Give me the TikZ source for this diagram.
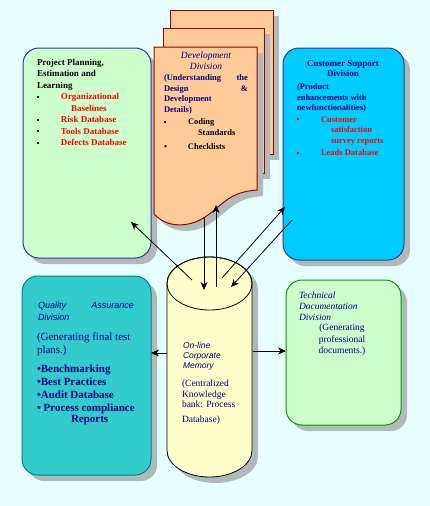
\documentclass[tikz,border=0pt]{standalone}
\usepackage{fontspec}
\setmainfont{Liberation Serif}
\setsansfont{Liberation Sans}
\usetikzlibrary{arrows.meta, shadows}

\definecolor{bgcyan}{HTML}{E8FFFF}
\definecolor{shadowgray}{HTML}{B0BABA}
\definecolor{navy}{HTML}{000080}
\definecolor{boxblue}{HTML}{333399}
\definecolor{mint}{HTML}{CCFFCC}
\definecolor{skyblue}{HTML}{00CCFF}
\definecolor{qateal}{HTML}{33CCCC}
\definecolor{tealline}{HTML}{008080}
\definecolor{devpeach}{HTML}{FFCC99}
\definecolor{devred}{HTML}{990000}
\definecolor{memyellow}{HTML}{FFFFCC}
\definecolor{techgreen}{HTML}{009900}

\newcommand{\sqbul}[1][black]{\makebox[24pt][l]{\textcolor{#1}{\rule[2pt]{2.2pt}{2.2pt}}}}

\begin{document}
\begin{tikzpicture}[x=1pt, y=-1pt,
    every node/.style={inner sep=0pt, outer sep=0pt},
    box/.style={draw, rounded corners=16pt, line width=1pt,
      drop shadow={shadow xshift=6pt, shadow yshift=-6pt, fill=shadowgray, opacity=1}},
    page/.style={draw=devred, fill=devpeach, line width=1pt,
      drop shadow={shadow xshift=6pt, shadow yshift=-6pt, fill=shadowgray, opacity=1}},
    txt/.style={anchor=north west, align=left},
    arr/.style={-{Stealth[length=8pt, width=7pt]}, line width=0.8pt},
  ]
  \fill[bgcyan] (0,0) rectangle (430,506);
  \useasboundingbox (0,0) rectangle (430,506);

  % --- division boxes
  \node[box, draw=boxblue, fill=mint, minimum width=128pt, minimum height=210pt] (plan) at (87,153) {};
  \node[box, draw=boxblue, fill=skyblue, minimum width=121pt, minimum height=212pt] (cust) at (343.5,154) {};
  \node[box, draw=tealline, fill=qateal, minimum width=129pt, minimum height=199pt] (qa) at (86.5,375.5) {};
  \node[box, draw=techgreen, fill=mint, minimum width=115pt, minimum height=145pt] (tech) at (343.5,352.5) {};

  % --- development division (stacked pages)
  \draw[page] (170,10) rectangle (273,154);
  \draw[page] (163,28) rectangle (264,173);
  \draw[page] (154,47) -- (257,47) -- (257,190)
    .. controls (228,192) and (222,206) .. (205,217)
    .. controls (190,227) and (168,229) .. (154,214) -- cycle;

  % --- corporate memory
  \draw[fill=memyellow, line width=0.8pt,
      drop shadow={shadow xshift=6pt, shadow yshift=-6pt, fill=shadowgray, opacity=1}]
    (167,283.5) -- (167,450.5) arc[start angle=180, end angle=0, x radius=42.5, y radius=26.5]
    -- (252,283.5) arc[start angle=0, end angle=-180, x radius=42.5, y radius=26.5] -- cycle;
  \draw[line width=0.8pt] (209.5,283.5) ellipse[x radius=42.5, y radius=26.5];

  % --- texts
  \node[txt, font=\fontsize{9}{11.5}\selectfont\bfseries] (planTxt) at (37,59)
    {Project Planning,\\Estimation and\\Learning\\
     \sqbul\textcolor{red}{Organizational}\\
     \hspace*{34pt}\textcolor{red}{Baselines}\\
     \sqbul\textcolor{red}{Risk Database}\\
     \sqbul\textcolor{red}{Tools Database}\\
     \sqbul\textcolor{red}{Defects Database}};

  \node[anchor=north, align=center, text=navy, font=\fontsize{9.5}{10.5}\selectfont\itshape] (devTitle) at (206,52)
    {Development\\Division};
  \node[txt, text=navy, font=\fontsize{8.5}{10.5}\selectfont\bfseries] (devTxt) at (164,75)
    {\makebox[84pt][s]{(Understanding\hfill the}\\
     \makebox[84pt][s]{Design\hfill\&}\\
     Development\\Details)\\[2pt]
     \textcolor{black}{\sqbul Coding}\\
     \textcolor{black}{\hspace*{34pt}Standards}\\[4pt]
     \textcolor{black}{\makebox[24pt][l]{\textbullet}Checklists}};

  \node[anchor=north, align=center, text=navy, font=\fontsize{9}{10}\selectfont\bfseries] (custTitle) at (343,61)
    {Customer Support\\Division};
  \node[txt, text=navy, font=\fontsize{8.5}{10.5}\selectfont\bfseries] (custTxt) at (297,84)
    {(Product\\enhancements with\\newfunctionalities)\\[1pt]
     \textcolor{red}{\sqbul[red]Customer}\\
     \textcolor{red}{\hspace*{34pt}satisfaction}\\
     \textcolor{red}{\hspace*{34pt}survey reports}\\[2pt]
     \textcolor{red}{\sqbul[red]Leads Database}};

  \node[txt, text=navy, font=\fontsize{9}{12}\selectfont\sffamily\itshape] (qaTitle) at (38,302)
    {\makebox[96pt][s]{Quality\hfill Assurance}\\Division};
  \node[txt, text=navy, font=\fontsize{11}{13}\selectfont] (qaTxt) at (37,333)
    {(Generating final test\\plans.)\\[6pt]
     \textbf{\textbullet Benchmarking}\\
     \textbf{\textbullet Best Practices}\\
     \textbf{\textbullet Audit Database}\\
     \textbf{\textbullet\ Process compliance}\\[-2pt]
     \textbf{\hspace*{34pt}Reports}};

  \node[txt, text=navy, font=\fontsize{8.5}{10}\selectfont\sffamily\itshape] (memTitle) at (183,342)
    {On-line\\Corporate\\Memory};
  \node[txt, text=navy, font=\fontsize{9.5}{10.5}\selectfont] (mem) at (182,380)
    {(Centralized\\Knowledge\\bank: Process\\[4pt]Database)};

  \node[txt, text=navy, font=\fontsize{9.5}{11}\selectfont\itshape] (techTitle) at (299,292)
    {Technical\\Documentation\\Division};
  \node[anchor=north, align=center, text=navy, font=\fontsize{9.5}{11.5}\selectfont] (techTxt) at (342,324)
    {(Generating\\professional\\documents.)};

  % --- connector ends
  \coordinate (memPl) at (192,280);  \coordinate (plIn) at (131,222);
  \coordinate (devOut) at (204,217); \coordinate (memIn) at (204,290);
  \coordinate (memUp) at (216,287);  \coordinate (devIn) at (216,205);
  \coordinate (memCu) at (222,278);  \coordinate (cuIn) at (285,207);
  \coordinate (cuOut) at (292,220);  \coordinate (memIn2) at (231,287);
  \coordinate (memW) at (167,353);   \coordinate (memE) at (253,351);

  % --- connectors
  \draw[arr] (memPl) -- (plIn);
  \draw[arr] (devOut) -- (memIn);
  \draw[arr] (memUp) -- (devIn);
  \draw[arr] (memCu) -- (cuIn);
  \draw[arr] (cuOut) -- (memIn2);
  \draw[arr] (memW) -- (memW -| qa.east);
  \draw[arr] (memE) -- (memE -| tech.west);
\end{tikzpicture}
\end{document}
